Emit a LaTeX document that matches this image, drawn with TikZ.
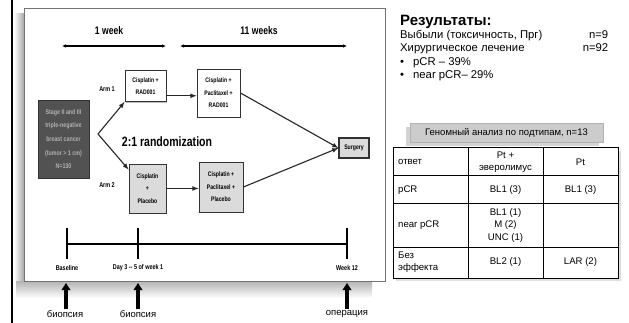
\documentclass[tikz,border=0pt]{standalone}
\usepackage{fontspec}
\setmainfont{Liberation Sans}
\newfontfamily\condfont[FakeStretch=0.78]{Liberation Sans}
\usetikzlibrary{positioning,shadows,arrows.meta}

\begin{document}
\begin{tikzpicture}[
  x=1pt, y=-1pt, >=latex,
  arm/.style={draw=black!80, line width=0.9pt, fill=white, align=center, inner sep=1pt,
    font=\condfont\bfseries\fontsize{6.6}{12.5}\selectfont,
    drop shadow={shadow xshift=0.8pt, shadow yshift=-1.2pt, opacity=0.55}},
  armb/.style={arm, fill=black!14},
  lab/.style={font=\condfont\bfseries\fontsize{7}{8}\selectfont, inner sep=1pt},
  head/.style={font=\condfont\bfseries\fontsize{11}{12}\selectfont, inner sep=1pt},
  flow/.style={->, line width=1.1pt, black!85},
  span/.style={{Latex[length=4pt,width=3.5pt]}-{Latex[length=4pt,width=3.5pt]}, line width=1.7pt},
  tl/.style={line width=1.2pt},
  bigup/.style={-{Triangle[length=7pt,width=8.5pt]}, line width=3.6pt},
  ru/.style={font=\fontsize{9.5}{10}\selectfont, inner sep=1pt},
  cell/.style={font=\fontsize{9.6}{12.3}\selectfont, align=center, inner sep=1pt},
  cellw/.style={cell, align=left, anchor=west}]
\useasboundingbox (0,0) rectangle (629,323);

% slide frame with its shadow
\draw[line width=2pt] (12,0) -- (12,323);
\shade[left color=white, right color=black!35] (14,14) rectangle (24,281);
\shade[top color=black!30, bottom color=white] (16,281) rectangle (372,298);
\draw[black!55, fill=white] (24,8) rectangle (385,281);

% study timing
\coordinate (w1a) at (62,46);
\coordinate (w1b) at (166,46);
\coordinate (w2a) at (180,46);
\coordinate (w2b) at (347,46);
\draw[span] (w1a) -- (w1b);
\draw[span] (w2a) -- (w2b);
\node[head] (w1) at (109,31) {1 week};
\node[head] (w2) at (259,31) {11 weeks};

% treatment arms
\node[arm, fill=black!68, text=black!30, minimum width=51pt, minimum height=78pt,
  font=\condfont\bfseries\fontsize{6.8}{13.7}\selectfont] (stage) at (63.5,139)
  {Stage II and III\\triple-negative\\breast cancer\\(tumor > 1 cm)\\N=130};
\node[arm, minimum width=41pt, minimum height=31pt] (c1) at (145.5,86) {Cisplatin +\\RAD001};
\node[arm, minimum width=43pt, minimum height=48pt] (c2) at (218.5,93) {Cisplatin +\\Paclitaxel +\\RAD001};
\node[armb, minimum width=37pt, minimum height=49pt] (c3) at (147.5,188.5) {Cisplatin\\+\\Placebo};
\node[armb, minimum width=44pt, minimum height=50pt] (c4) at (221,187) {Cisplatin +\\Paclitaxel +\\Placebo};
\node[armb, minimum width=30pt, minimum height=20pt, line width=1.2pt] (surg) at (354,148) {Surgery};
\node[lab] (a1) at (107,89) {Arm 1};
\node[lab] (a2) at (107,185) {Arm 2};
\node[font=\condfont\bfseries\fontsize{13.5}{15}\selectfont, inner sep=0pt] (rand) at (167,142) {2:1 randomization};

\coordinate (split) at (98,134);
\draw[flow] (split) -- (c1.south west);
\draw[flow] (split) -- (c3.135);
\draw[flow] (c1.-25) -- (c1.-25 -| c2.west);
\draw[flow] (c3.east) -- (c3.east -| c4.west);
\draw[flow] (c2.east) -- (surg.west);
\draw[flow] (c4.east) -- (surg.west);

% biopsy timeline
\coordinate (t0) at (67,244);
\coordinate (t1) at (138,244);
\coordinate (t2) at (347,244);
\draw[line width=2.4pt] (t0) -- (t2);
\foreach \t in {t0,t1,t2}
  \draw[tl] ([yshift=16pt]\t) -- ([yshift=-15pt]\t);
\node[lab] (base) at (67,268) {Baseline};
\node[lab] (day) at (138,268) {Day 3 -- 5 of week 1};
\node[lab] (wk) at (347,268) {Week 12};
\node[ru] (b1) at (65,314) {биопсия};
\node[ru] (b2) at (138,314) {биопсия};
\node[ru] (op) at (347,314) {операция};
\draw[bigup] (b1.north -| 66,0) -- (66,283);
\draw[bigup] (b2.north) -- (138,283);
\draw[bigup] (op.north) -- (347,283);

% results
\node[anchor=north west, inner sep=0pt, font=\fontsize{11.3}{13.5}\selectfont] (res) at (400,15)
  {\begin{tabular*}{208pt}{@{}l@{\extracolsep{\fill}}r@{}}
   \multicolumn{2}{@{}l}{\fontsize{15}{15}\selectfont\bfseries Результаты:}\\[-1pt]
   Выбыли (токсичность, Прг) & n=9\\
   Хирургическое лечение & n=92\\
   \textbullet\hspace{9pt}pCR -- 39\% & \\
   \textbullet\hspace{9pt}near pCR-- 29\% &
   \end{tabular*}};

% subtype table
\node[fill=black!20, draw=black!30, minimum width=193pt, minimum height=19pt, inner sep=0pt,
  font=\fontsize{9.5}{10}\selectfont,
  drop shadow={shadow xshift=-4pt, shadow yshift=-4pt, opacity=0.35}] (tab) at (506.5,133)
  {Геномный анализ по подтипам, n=13};
\fill[black!25, opacity=0.5] (396,151) rectangle (621,281);
\draw[line width=1pt, fill=white] (393,148) rectangle (618,278);
\foreach \y in {176,204,247} \draw[line width=1pt] (393,\y) -- (618,\y);
\foreach \x in {468,543} \draw[line width=1pt] (\x,148) -- (\x,278);
\node[cellw] (h0) at (397,162) {ответ};
\node[cell] (h1) at (505.5,162) {Pt +\\эверолимус};
\node[cell] (h2) at (580.5,162) {Pt};
\node[cellw] (r1) at (397,190) {pCR};
\node[cell] (r1a) at (505.5,190) {BL1 (3)};
\node[cell] (r1b) at (580.5,190) {BL1 (3)};
\node[cellw] (r2) at (397,225.5) {near pCR};
\node[cell] (r2a) at (505.5,225.5) {BL1 (1)\\M (2)\\UNC (1)};
\node[cellw] (r3) at (397,262.5) {Без\\эффекта};
\node[cell] (r3a) at (505.5,262.5) {BL2 (1)};
\node[cell] (r3b) at (580.5,262.5) {LAR (2)};
\end{tikzpicture}
\end{document}
